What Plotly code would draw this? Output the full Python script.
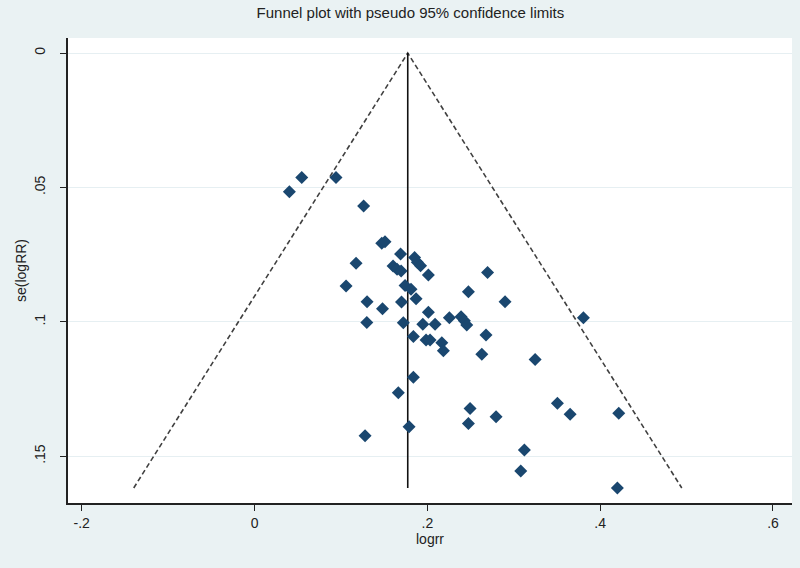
import plotly.graph_objects as go

# Study estimates
logrr = [0.0403, 0.0546, 0.0943, 0.1262, 0.1472, 0.1510, 0.1690, 0.1175, 0.1603, 0.1649,
         0.1696, 0.1852, 0.1884, 0.1921, 0.2012, 0.1059, 0.1742, 0.1811, 0.1869, 0.1302,
         0.1701, 0.1481, 0.2012, 0.2697, 0.2475, 0.2899, 0.2255, 0.2390, 0.2428, 0.2456,
         0.1299, 0.1722, 0.1947, 0.2089, 0.1838, 0.1985, 0.2031, 0.2167, 0.2185, 0.2679,
         0.2630, 0.3806, 0.3247, 0.1838, 0.1664, 0.1788, 0.1279, 0.2494, 0.2475, 0.2795,
         0.3505, 0.3652, 0.4215, 0.3123, 0.3081, 0.4199]
se_logrr = [0.0516, 0.0463, 0.0463, 0.0569, 0.0708, 0.0702, 0.0748, 0.0782, 0.0792, 0.0804,
            0.0811, 0.0761, 0.0778, 0.0791, 0.0826, 0.0867, 0.0865, 0.0879, 0.0914, 0.0925,
            0.0926, 0.0951, 0.0964, 0.0816, 0.0888, 0.0925, 0.0985, 0.0981, 0.0996, 0.1012,
            0.1002, 0.1003, 0.1009, 0.1009, 0.1055, 0.1068, 0.1068, 0.1078, 0.1108, 0.1049,
            0.1121, 0.0985, 0.1140, 0.1206, 0.1264, 0.1390, 0.1424, 0.1322, 0.1378, 0.1353,
            0.1303, 0.1344, 0.1340, 0.1477, 0.1555, 0.1618]
pooled = 0.1773
z95 = 1.96

x_ticks = [-0.2, 0, 0.2, 0.4, 0.6]
x_ticklabels = ["-.2", "0", ".2", ".4", ".6"]
y_ticks = [0, 0.05, 0.1, 0.15]
y_ticklabels = ["0", ".05", ".1", ".15"]

se_max = max(se_logrr)

navy = "#1a476f"
fig = go.Figure()

# pseudo 95% confidence limits
fig.add_trace(go.Scatter(
    x=[pooled - z95 * se_max, pooled, pooled + z95 * se_max],
    y=[se_max, 0, se_max],
    mode="lines", line=dict(color="#404040", width=1.6, dash="5px,3px"),
    hoverinfo="skip", showlegend=False))
# pooled estimate line
fig.add_trace(go.Scatter(
    x=[pooled, pooled], y=[0, se_max],
    mode="lines", line=dict(color="#111111", width=1.6),
    hoverinfo="skip", showlegend=False))
# studies
fig.add_trace(go.Scatter(
    x=logrr, y=se_logrr, mode="markers",
    marker=dict(symbol="diamond", size=10, color=navy),
    showlegend=False))

font_family = "Liberation Sans, Arial, sans-serif"
fig.update_layout(
    width=800, height=568,
    margin=dict(l=68, r=8, t=38, b=65),
    paper_bgcolor="#eaf2f3", plot_bgcolor="#ffffff",
    font=dict(family=font_family, size=14, color="#222222"),
    title=dict(text="Funnel plot with pseudo 95% confidence limits",
               x=0.513, xanchor="center", xref="container",
               y=0.978, yanchor="middle", yref="container",
               font=dict(size=15, color="#222222")),
    showlegend=False,
)
fig.update_xaxes(
    range=[-0.2159, 0.622], tickvals=x_ticks, ticktext=x_ticklabels,
    automargin=False,
    showgrid=False, zeroline=False, showline=True, linecolor="#222222", linewidth=1.5,
    ticks="outside", ticklen=6, tickwidth=1.3, tickcolor="#222222",
    tickfont=dict(size=14),
    title=dict(text="logrr", font=dict(size=14), standoff=2))
fig.update_yaxes(
    range=[0.1674, -0.0056], tickvals=y_ticks, ticktext=y_ticklabels,
    automargin=False,
    tickangle=-90, ticklabelstandoff=10,
    showgrid=True, gridcolor="#e6eff2", gridwidth=1.2,
    zeroline=False, showline=True, linecolor="#222222", linewidth=1.5,
    ticks="outside", ticklen=6, tickwidth=1.3, tickcolor="#222222",
    tickfont=dict(size=14),
    title=dict(text="se(logRR)", font=dict(size=14), standoff=2))

fig.write_html("out.html",
               config={"displayModeBar": False},
               post_script="document.body.style.margin='0';document.body.style.overflow='hidden';")
